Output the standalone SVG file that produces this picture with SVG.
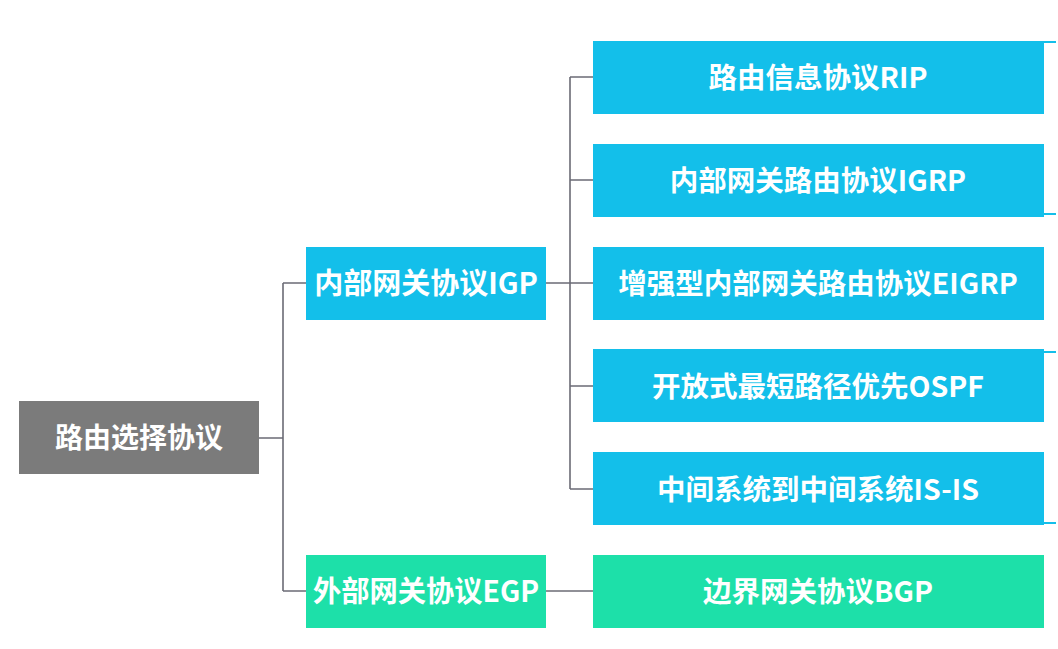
<svg xmlns="http://www.w3.org/2000/svg" width="1058" height="649" viewBox="0 0 1058 649">
<style>
.t{font-family:"Noto Sans CJK SC","Noto Sans",sans-serif;font-weight:bold;fill:#ffffff;text-anchor:middle;dominant-baseline:central}
.c{fill:#13bfea}
.g{fill:#1de0a9}
.ln{stroke:#6b6b75;stroke-width:1.6;fill:none}
.stub{stroke:#13bfea;stroke-width:2;fill:none}
</style>
<rect width="1058" height="649" fill="#ffffff"/>
<g id="connectors">
<path class="ln" d="M259 438H283M283 283V591M283 283H306M283 591H306"/>
<path class="ln" d="M546 283H593M570 77V489M570 77H593M570 180H593M570 386H593M570 489H593"/>
<path class="ln" d="M546 591H593"/>
<path class="stub" d="M1044 42H1056M1044 214H1056M1044 352H1056M1044 523H1056"/>
</g>
<g id="root"><rect x="19" y="401" width="240" height="73" fill="#7b7b7b"/><text class="t" x="139" y="436" font-size="28">路由选择协议</text></g>
<g id="igp"><rect class="c" x="306" y="247" width="240" height="73"/><text class="t" x="426" y="281" font-size="29">内部网关协议IGP</text></g>
<g id="egp"><rect class="g" x="306" y="555" width="240" height="73"/><text class="t" x="426" y="589" font-size="29" textLength="226" lengthAdjust="spacingAndGlyphs">外部网关协议EGP</text></g>
<g id="rip"><rect class="c" x="593" y="41" width="451" height="73"/><text class="t" x="818" y="75" font-size="28.5">路由信息协议RIP</text></g>
<g id="igrp"><rect class="c" x="593" y="144" width="451" height="73"/><text class="t" x="818" y="178" font-size="28.5">内部网关路由协议IGRP</text></g>
<g id="eigrp"><rect class="c" x="593" y="247" width="451" height="73"/><text class="t" x="818" y="281" font-size="28.5">增强型内部网关路由协议EIGRP</text></g>
<g id="ospf"><rect class="c" x="593" y="349" width="451" height="73"/><text class="t" x="818" y="384" font-size="28.5">开放式最短路径优先OSPF</text></g>
<g id="isis"><rect class="c" x="593" y="452" width="451" height="73"/><text class="t" x="818" y="487" font-size="28.5">中间系统到中间系统IS-IS</text></g>
<g id="bgp"><rect class="g" x="593" y="555" width="451" height="73"/><text class="t" x="818" y="589" font-size="28.5">边界网关协议BGP</text></g>
</svg>
